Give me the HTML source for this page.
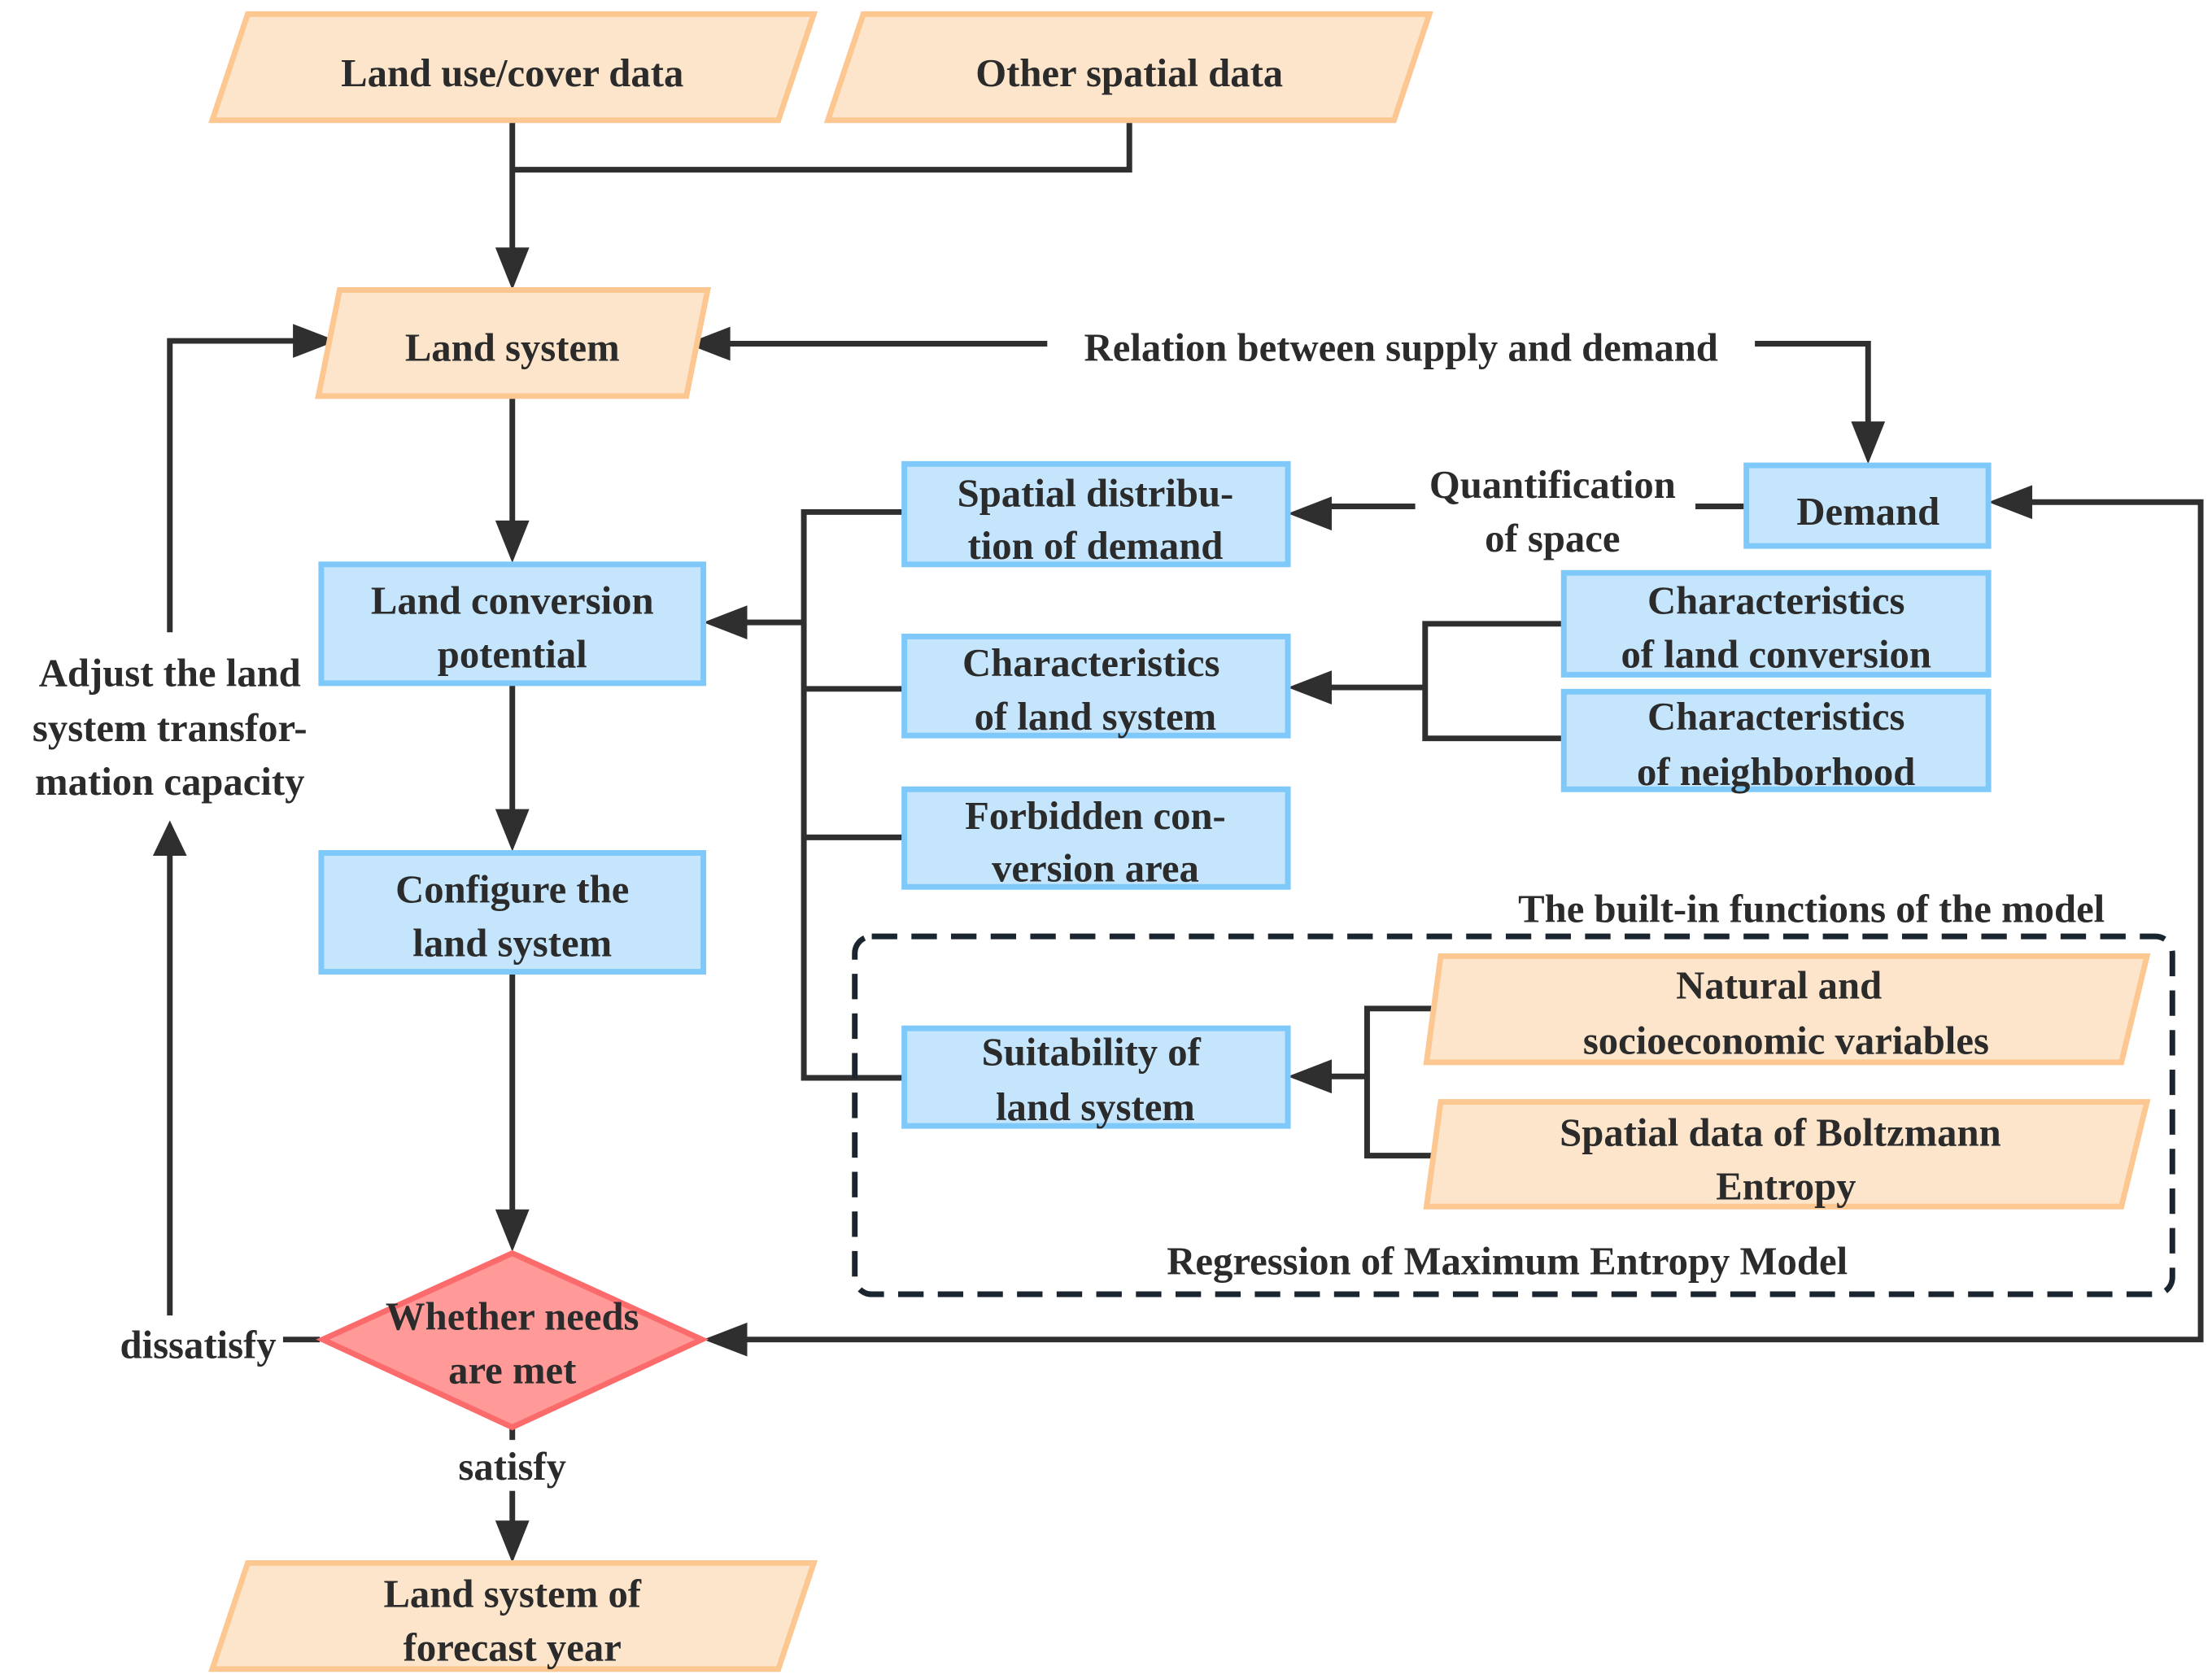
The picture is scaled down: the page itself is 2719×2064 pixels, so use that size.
<!DOCTYPE html>
<html><head><meta charset="utf-8"><style>
html,body{margin:0;padding:0;background:#fff;}
svg{display:block;}
text{font-family:"Liberation Serif",serif;font-weight:bold;fill:#2b2b2b;font-size:28px;text-anchor:middle;}
.b{fill:#c4e5fc;stroke:#7fc9fa;stroke-width:4;}
.p{fill:#fde5cb;stroke:#fcc791;stroke-width:4;}
.l{fill:none;stroke:#2f2f2f;stroke-width:4;}
.a{fill:#2f2f2f;}
</style></head><body>
<svg width="2719" height="2064" viewBox="0 0 1563 1187" preserveAspectRatio="none" xmlns="http://www.w3.org/2000/svg">
<!-- lines -->
<path class="l" d="M362 85V185M798 85V120H362"/>
<path class="l" d="M362 280V378"/>
<path class="l" d="M362 483V582"/>
<path class="l" d="M362 687V865"/>
<path class="l" d="M362 1010V1085"/>
<path class="l" d="M505 243H1320V308"/>
<path class="l" d="M226 947H120V605"/>
<path class="l" d="M120 447V241H217"/>
<path class="l" d="M1425 355H1555V947H517"/>
<path class="l" d="M1233 358H930"/>
<path class="l" d="M638 362H568V762H638M568 487H638M568 592H638M568 440H517"/>
<path class="l" d="M1105 441H1007V522H1105M1007 486H930"/>
<path class="l" d="M1020 713H966V817H1020M966 761H930"/>
<!-- label backgrounds -->
<rect x="740" y="226" width="500" height="34" fill="#fff"/>
<rect x="1000" y="330" width="198" height="66" fill="#fff"/>
<rect x="78" y="930" width="122" height="36" fill="#fff"/>
<rect x="315" y="1018" width="94" height="36" fill="#fff"/>
<!-- arrowheads -->
<polygon class="a" points="350,175 374,175 362,205"/>
<polygon class="a" points="350,368 374,368 362,398"/>
<polygon class="a" points="350,572 374,572 362,602"/>
<polygon class="a" points="350,855 374,855 362,885"/>
<polygon class="a" points="350,1075 374,1075 362,1105"/>
<polygon class="a" points="1308,298 1332,298 1320,328"/>
<polygon class="a" points="108,605 132,605 120,580"/>
<polygon class="a" points="207,229 207,253 238,241"/>
<polygon class="a" points="516,231 516,255 485,243"/>
<polygon class="a" points="1436,343 1436,367 1405,355"/>
<polygon class="a" points="528,935 528,959 497,947"/>
<polygon class="a" points="941,351 941,375 910,363"/>
<polygon class="a" points="528,428 528,452 497,440"/>
<polygon class="a" points="941,474 941,498 910,486"/>
<polygon class="a" points="941,749 941,773 910,761"/>
<!-- dashed container -->
<rect x="604" y="662" width="931" height="253" rx="12" fill="none" stroke="#1b2530" stroke-width="4" stroke-dasharray="18,10"/>
<!-- parallelograms -->
<polygon class="p" points="175,10 575,10 550,85 150,85"/>
<polygon class="p" points="610,10 1010,10 985,85 585,85"/>
<polygon class="p" points="240,205 500,205 485,280 225,280"/>
<polygon class="p" points="175,1105 575,1105 550,1180 150,1180"/>
<polygon class="p" points="1018,676 1517,676 1499,751 1008,751"/>
<polygon class="p" points="1018,779 1517,779 1499,853 1008,853"/>
<!-- boxes -->
<rect class="b" x="1234" y="329" width="171" height="57"/>
<rect class="b" x="639" y="328" width="271" height="71"/>
<rect class="b" x="227" y="399" width="270" height="84"/>
<rect class="b" x="639" y="450" width="271" height="70"/>
<rect class="b" x="639" y="558" width="271" height="69"/>
<rect class="b" x="1105" y="405" width="300" height="72"/>
<rect class="b" x="1105" y="489" width="300" height="69"/>
<rect class="b" x="227" y="603" width="270" height="84"/>
<rect class="b" x="639" y="727" width="271" height="69"/>
<polygon points="362,886 496,947 362,1009 228,947" fill="#ff9a99" stroke="#fb6b6b" stroke-width="4"/>
<!-- text -->
<text x="362" y="61">Land use/cover data</text>
<text x="798" y="61">Other spatial data</text>
<text x="362" y="255">Land system</text>
<text x="990" y="255">Relation between supply and demand</text>
<text x="1320" y="371">Demand</text>
<text x="1097" y="352">Quantification</text>
<text x="1097" y="390">of space</text>
<text x="774" y="358">Spatial distribu-</text>
<text x="774" y="395">tion of demand</text>
<text x="362" y="434">Land conversion</text>
<text x="362" y="472">potential</text>
<text x="771" y="478">Characteristics</text>
<text x="774" y="516">of land system</text>
<text x="1255" y="434">Characteristics</text>
<text x="1255" y="472">of land conversion</text>
<text x="1255" y="516">Characteristics</text>
<text x="1255" y="555">of neighborhood</text>
<text x="774" y="586">Forbidden con-</text>
<text x="774" y="623">version area</text>
<text x="362" y="638">Configure the</text>
<text x="362" y="676">land system</text>
<text x="1280" y="652">The built-in functions of the model</text>
<text x="1257" y="706">Natural and</text>
<text x="1262" y="745">socioeconomic variables</text>
<text x="771" y="753">Suitability of</text>
<text x="774" y="792">land system</text>
<text x="1258" y="810">Spatial data of Boltzmann</text>
<text x="1262" y="848">Entropy</text>
<text x="1065" y="901">Regression of Maximum Entropy Model</text>
<text x="362" y="940">Whether needs</text>
<text x="362" y="978">are met</text>
<text x="120" y="485">Adjust the land</text>
<text x="120" y="524">system transfor-</text>
<text x="120" y="562">mation capacity</text>
<text x="140" y="960">dissatisfy</text>
<text x="362" y="1046">satisfy</text>
<text x="362" y="1136">Land system of</text>
<text x="362" y="1174">forecast year</text>
</svg>
</body></html>
